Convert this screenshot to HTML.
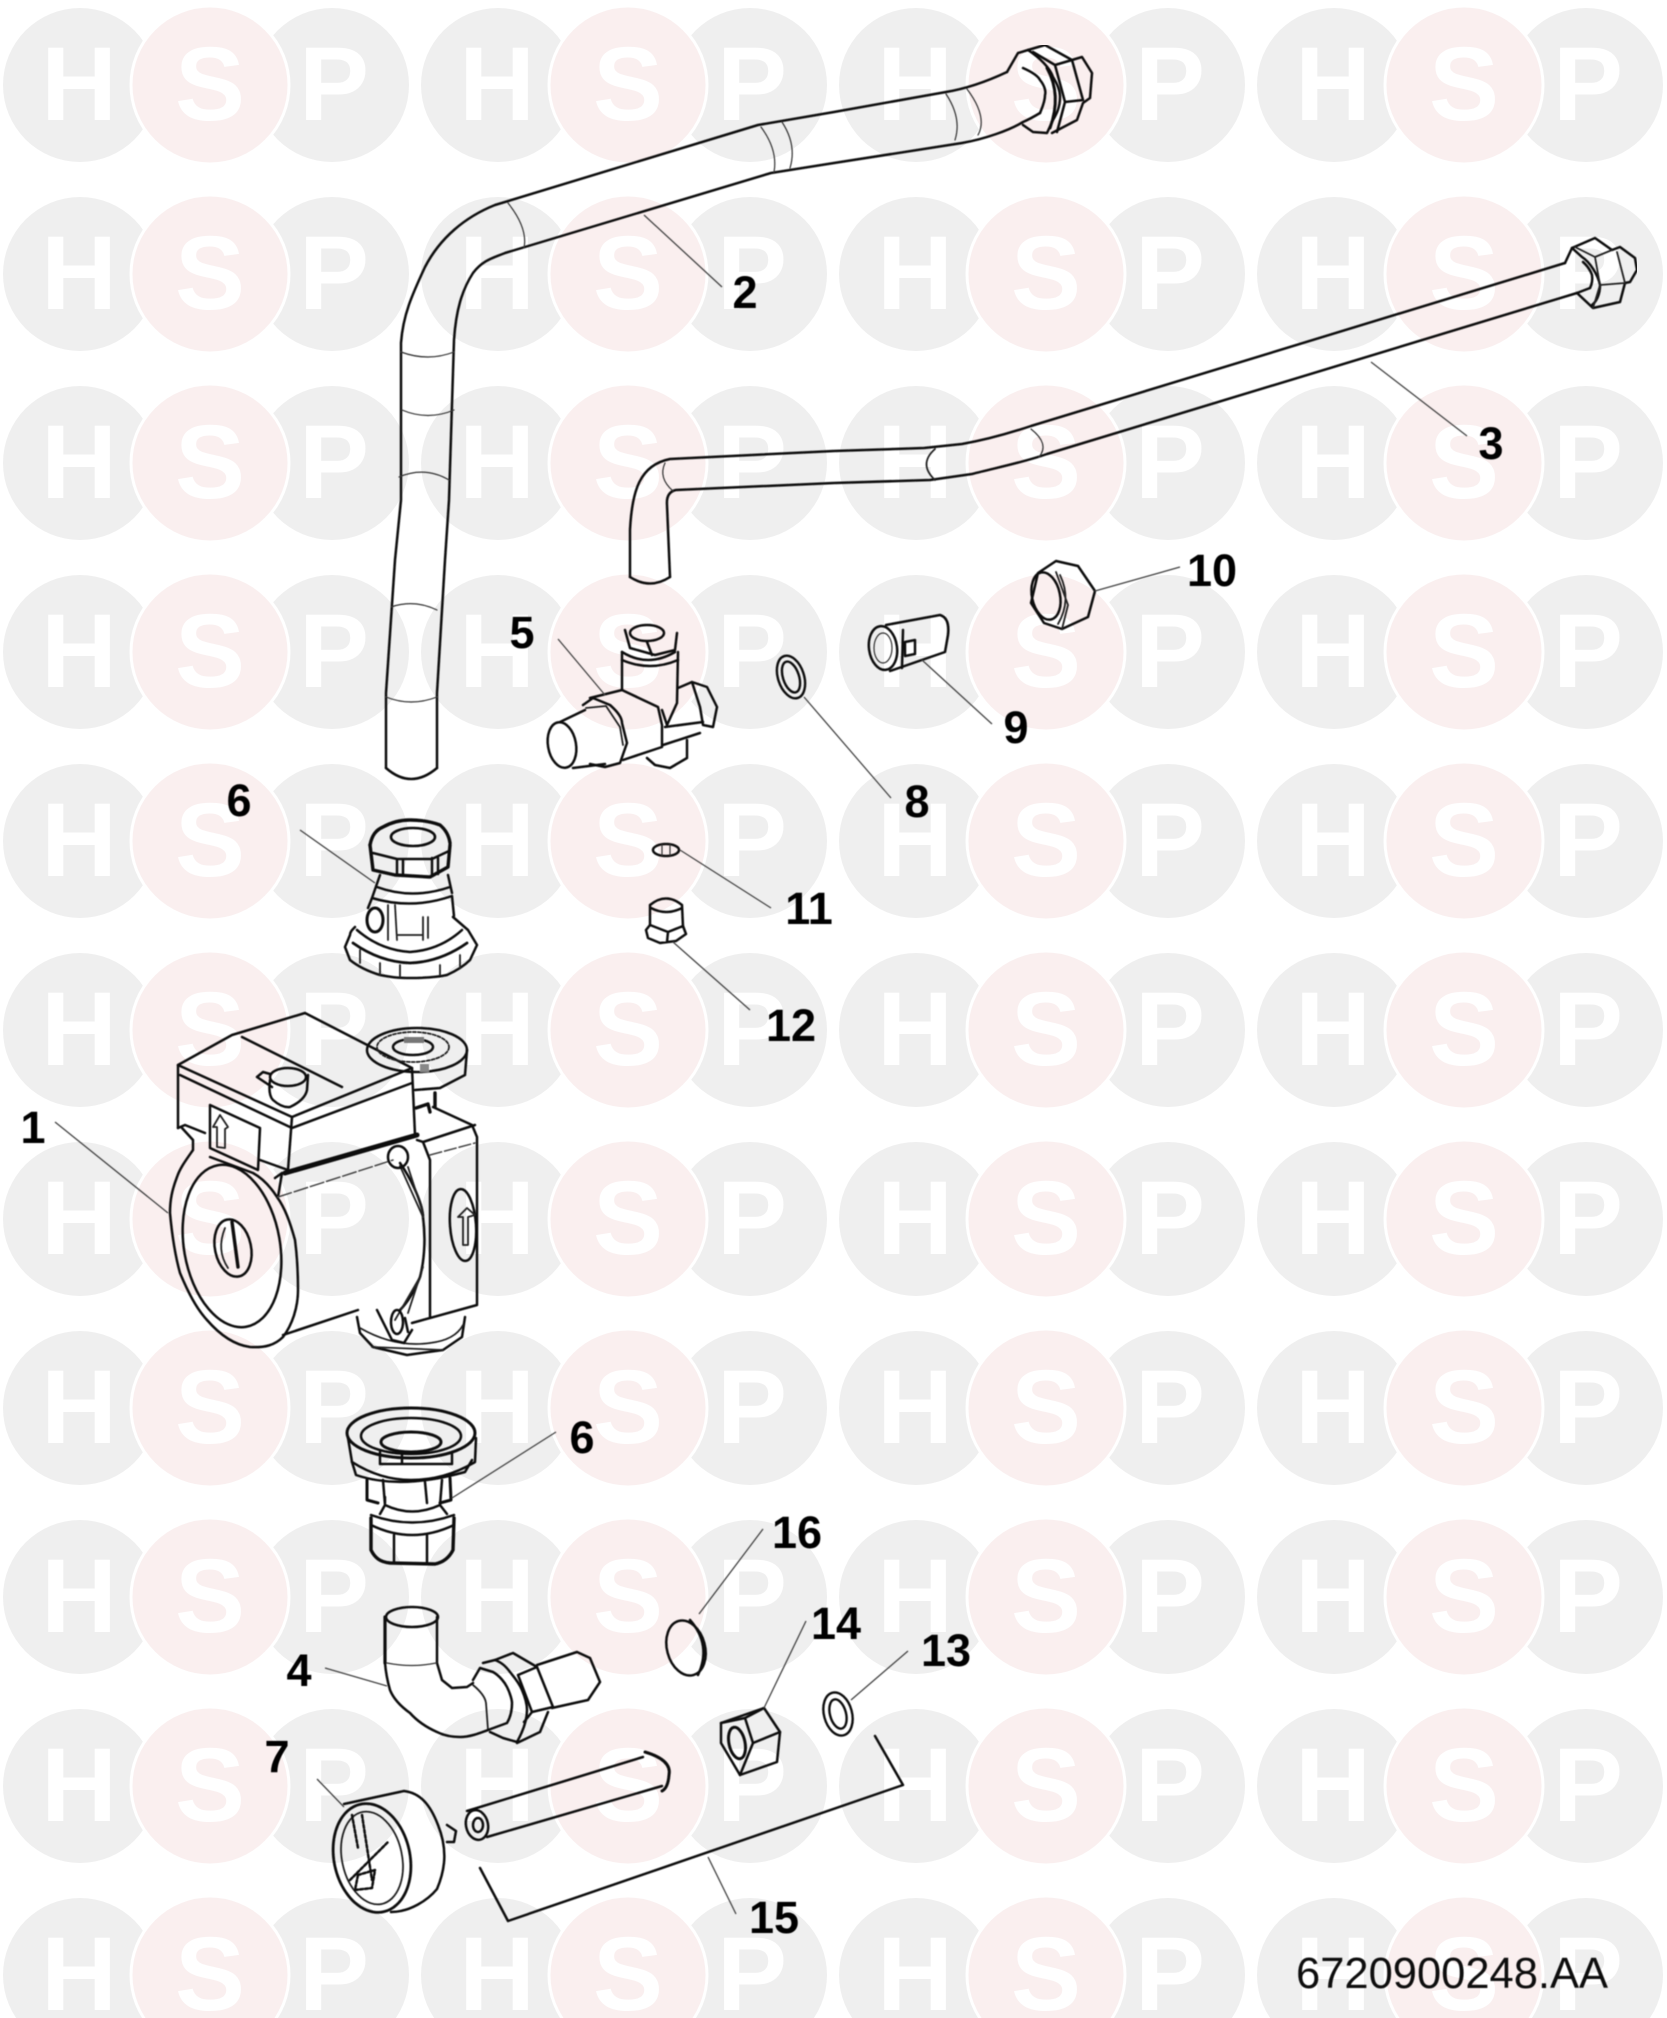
<!DOCTYPE html>
<html><head><meta charset="utf-8"><style>
html,body{margin:0;padding:0;background:#fff}
svg{display:block}
.l{fill:none;stroke:#111;stroke-width:2.5;stroke-linejoin:round;stroke-linecap:round}
.t{fill:none;stroke:#333;stroke-width:1.2;stroke-linecap:round}
.m{fill:none;stroke:#222;stroke-width:1.8;stroke-linejoin:round;stroke-linecap:round}
.b{fill:none;stroke:#111;stroke-width:3.4;stroke-linejoin:round;stroke-linecap:round}
.d{fill:none;stroke:#444;stroke-width:1.5;stroke-linecap:round}
.ld{fill:none;stroke:#444;stroke-width:1.3}
.n{font:bold 45px "Liberation Sans",sans-serif;fill:#000;text-anchor:middle}
.wm{font:bold 105px "Liberation Sans",sans-serif;fill:#fff;text-anchor:middle}
</style></head><body>
<svg xmlns="http://www.w3.org/2000/svg" width="1667" height="2018" viewBox="0 0 1667 2018">
<defs>
<pattern id="hsp" patternUnits="userSpaceOnUse" x="0" y="0" width="418" height="189">
<circle cx="80" cy="85" r="77" fill="#efefef"/>
<circle cx="332" cy="85" r="77" fill="#efefef"/>
<circle cx="210" cy="85" r="79" fill="#faefef" stroke="#fff" stroke-width="3"/>
<text class="wm" x="79" y="120">H</text>
<text class="wm" x="210" y="120">S</text>
<text class="wm" x="334" y="120">P</text>
</pattern>
<filter id="soft" x="0" y="0" width="100%" height="100%"><feGaussianBlur stdDeviation="0.45"/></filter>
</defs>
<rect width="1667" height="2018" fill="#fff"/>
<rect width="1667" height="2018" fill="url(#hsp)"/>
<g filter="url(#soft)">
<!-- pipe 2 -->
<path class="l" d="M386 768L386 693L395 560L401 500L401 343C403 315 412 295 425 267C440 238 465 217 495 205L758 125L834 112L946 92C970 88 990 80 1007 72"/>
<path class="l" d="M437 768L437 693L445 560L449 500L454 340C456 310 462 290 473 273C483 260 493 258 505 253L771 173L834 163L962 143C985 139 1010 130 1023 122C1030 119 1035 116 1040 113"/>
<path class="l" d="M386 768Q411 790 437 768"/>
<path class="t" d="M401 352Q428 362 454 352M402 410Q428 421 454 410M399 477Q425 466 449 480M391 607Q414 599 437 610M386 697Q411 707 437 697"/>
<path class="t" d="M508 203Q528 228 524 248M761 127Q778 150 774 172M782 122Q797 145 790 168M946 94Q962 118 955 140M967 89Q988 117 978 135"/>
<!-- nut 2 -->
<path class="l" d="M1007 72L1018 53L1028 50C1040 58 1050 68 1053 77C1058 85 1060 92 1060 97C1060 108 1056 115 1053 120L1047 133L1033 132L1023 125"/>
<path class="l" d="M1023 68C1032 72 1038 76 1040 80C1045 86 1046 92 1045 95C1045 102 1042 108 1040 113"/>
<path class="l" d="M1028 50L1045 45L1072 60L1082 57L1092 73L1090 98L1083 103L1077 120L1052 133"/>
<path class="l" d="M1033 52L1055 65L1072 60L1083 100M1055 65L1065 102L1083 100M1065 102L1057 132"/>
<path class="b" d="M1047 68Q1062 95 1050 128" style="stroke-width:3"/>
<!-- pipe 3 -->
<path class="l" d="M630 577L630 530C632 490 640 465 670 459L834 451L924 448L962 444C985 440 1010 433 1031 426L1565 263"/>
<path class="l" d="M670 577L667 505Q666 492 676 490L834 483L930 480L972 474C995 468 1025 462 1047 454L1577 293L1590 288"/>
<path class="l" d="M630 577Q650 590 670 577"/>
<path class="t" d="M665 463Q658 478 673 491"/>
<path class="m" d="M935 449Q918 464 935 480"/>
<path class="t" d="M1031 429Q1050 444 1039 457"/>
<!-- nut 3 -->
<path class="l" d="M1565 263L1572 248L1595 238L1612 250L1620 247L1635 258L1637 270L1630 282L1625 283L1620 302L1593 308L1577 293"/>
<path class="l" d="M1572 248L1582 257C1590 262 1598 275 1600 285C1600 295 1596 302 1592 305"/>
<path class="l" d="M1583 262C1590 268 1592 275 1592 275C1593 282 1591 286 1590 288"/>
<path class="m" d="M1575 247L1595 257L1612 250M1595 257L1600 285L1625 283L1617 252M1600 285L1593 308"/>
<!-- nut 10 -->
<path class="l" d="M1038 573L1056 561L1078 566L1095 591L1088 617L1062 629L1044 623L1031 603Z"/>
<ellipse class="l" cx="1046" cy="596" rx="14" ry="24" transform="rotate(-12 1046 596)"/>
<path class="m" d="M1056 572L1068 605L1062 629M1060 575Q1072 600 1058 624"/>
<!-- part 9 -->
<path class="l" d="M886 625L940 615Q950 618 948 635L945 652L890 671"/>
<ellipse class="l" cx="883" cy="648" rx="14" ry="22" transform="rotate(-8 883 648)"/>
<ellipse class="t" cx="883" cy="648" rx="9" ry="15"/>
<path class="l" d="M905 642L915 640L915 654L905 656Z M903 630L902 668"/>
<!-- part 8 -->
<ellipse class="l" cx="791" cy="677" rx="13" ry="22" transform="rotate(-18 791 677)" style="stroke-width:2.4"/>
<ellipse class="l" cx="791" cy="677" rx="8" ry="16" transform="rotate(-18 791 677)" style="stroke-width:2.4"/>
<!-- part 5 -->
<ellipse class="l" cx="647" cy="633" rx="17" ry="8"/>
<path class="l" d="M625 630L630 648L655 655L675 650L677 633M647 642L652 655"/>
<path class="l" d="M622 652Q648 668 675 652M622 660Q650 672 678 660"/>
<path class="l" d="M622 652L622 690M678 652L677 703L667 725L662 710"/>
<path class="l" d="M590 698L622 690L658 707L662 725L662 747L623 760"/>
<path class="l" d="M583 705L593 698L610 705C618 712 622 718 622 723L627 743L620 763L605 767L590 764"/>
<path class="m" d="M586 708L606 706L620 727L623 745"/>
<path class="l" d="M560 722L585 710M573 768L605 764"/>
<ellipse class="l" cx="562" cy="745" rx="14" ry="23" transform="rotate(-10 562 745)"/>
<path class="l" d="M678 688L692 682L707 687L717 707L713 727L703 725L700 707L692 682"/>
<path class="l" d="M665 727L703 722M663 745L700 733"/>
<path class="l" d="M687 740L687 758L670 768L655 765L647 758"/>
<!-- part 6 top -->
<path class="b" d="M370 845C372 835 376 830 383 827C392 822 400 820 410 820C422 820 432 822 440 825C446 830 449 836 450 843"/>
<ellipse class="b" cx="413" cy="837" rx="22" ry="9" style="stroke-width:2.6"/>
<path class="b" d="M370 845L373 870L395 875L430 877L448 867L450 845"/>
<path class="l" d="M373 853L397 859L432 859L449 851M397 860L397 875M403 860L403 875M432 858L432 876M438 858L438 874"/>
<path class="l" d="M380 875L372 898M448 875L452 893M377 887Q412 900 450 887M372 898Q412 910 452 896M372 898L368 908M452 896L454 916"/>
<ellipse class="b" cx="375" cy="920" rx="8" ry="12" style="stroke-width:3"/>
<path class="m" d="M388 905L388 940M395 905L397 940M423 917L423 940M428 917L428 938M397 935L423 935"/>
<path class="l" d="M355 927C352 930 350 932 350 935L345 947L350 960C360 968 370 972 380 975C395 978 402 978 410 978C425 978 438 977 447 975C458 970 465 965 470 960L477 945L468 930L453 917"/>
<path class="b" d="M353 943Q380 962 410 963Q440 962 467 943" style="stroke-width:2.8"/>
<path class="l" d="M357 930Q380 950 410 952Q440 950 462 930"/>
<path class="m" d="M380 963L380 975M400 965L400 977M440 965L440 975M460 955L460 968M360 950L360 963"/>
<!-- part 11 -->
<ellipse class="l" cx="666" cy="850" rx="13" ry="6"/>
<path class="t" d="M662 845L662 855M670 845L670 855"/>
<!-- part 12 -->
<path class="l" d="M650 925L650 905Q666 892 682 905L683 927M651 908Q666 916 682 908"/>
<path class="l" d="M650 925L646 930L648 938L660 943L676 941L686 934L683 926L668 932L650 925M668 932L667 942"/>
<!-- pump -->
<path class="l" d="M182 1128L193 1140L193 1150C186 1160 180 1168 177 1177C172 1190 170 1200 170 1213C172 1235 175 1255 180 1273C188 1292 196 1308 207 1320C220 1335 235 1345 250 1347C265 1348 275 1345 283 1337C292 1325 298 1308 298 1290C298 1272 297 1255 295 1240C290 1222 285 1208 277 1197C270 1186 262 1178 253 1173L210 1157"/>
<ellipse class="l" cx="232" cy="1246" rx="48" ry="82" transform="rotate(-10 232 1246)"/>
<ellipse class="l" cx="233" cy="1248" rx="18" ry="29" transform="rotate(-12 233 1248)"/>
<path class="m" d="M225 1228Q216 1250 228 1268"/>
<path class="b" d="M232 1222L238 1267"/>
<path class="l" d="M178 1065L232 1035L305 1013L412 1068L292 1117Z"/>
<path class="l" d="M242 1037L342 1087M178 1065L178 1128M292 1117L288 1170M412 1068L415 1135"/>
<path class="l" d="M180 1075L292 1128L412 1083M178 1128L185 1125L205 1133"/>
<path class="l" d="M210 1105L260 1128L258 1170L210 1148ZM260 1160L288 1170"/>
<path class="m" d="M220 1115L213 1127L217 1127L217 1147L225 1148L225 1129L228 1127Z"/>
<path class="b" d="M285 1173L417 1135" style="stroke-width:5"/>
<ellipse class="l" cx="288" cy="1077" rx="18" ry="9"/>
<path class="l" d="M270 1080Q268 1095 273 1100Q282 1108 290 1107Q305 1100 307 1090L308 1075M257 1077L263 1072L270 1074M257 1077L272 1087"/>
<ellipse class="l" cx="417" cy="1050" rx="50" ry="22"/>
<ellipse class="m" cx="413" cy="1047" rx="36" ry="15" stroke-dasharray="3 2"/>
<ellipse class="l" cx="413" cy="1047" rx="20" ry="8"/>
<rect x="404" y="1037" width="20" height="6" fill="#777"/>
<rect x="420" y="1064" width="9" height="8" fill="#888"/>
<path class="l" d="M467 1050L465 1075L440 1088L415 1090"/>
<path class="b" d="M435 1093L435 1107M416 1108L428 1104L430 1112"/>
<path class="l" d="M433 1107L472 1125L477 1137L477 1305L412 1323M417 1140L423 1142L430 1160L430 1317M423 1142L475 1125"/>
<path class="d" d="M430 1155L475 1143" stroke-dasharray="12 3"/>
<path class="l" d="M275 1178L282 1173L278 1197"/>
<path class="d" d="M278 1197L393 1160" stroke-dasharray="14 3"/>
<path class="l" d="M283 1335L358 1310"/>
<path class="l" d="M400 1163C412 1180 423 1205 423 1217C426 1240 424 1262 420 1277C414 1292 408 1302 400 1310"/>
<path class="m" d="M408 1167L423 1213M423 1267L408 1313M400 1166L423 1217M420 1277L395 1320"/>
<ellipse class="l" cx="398" cy="1157" rx="10" ry="11"/>
<path class="l" d="M357 1317L360 1333L373 1347L407 1355L443 1350L462 1337L465 1317"/>
<path class="m" d="M360 1328Q395 1348 430 1343Q455 1340 463 1325M372 1347L443 1350"/>
<ellipse class="l" cx="397" cy="1322" rx="6" ry="12"/>
<path class="l" d="M377 1310L392 1340L404 1343L412 1330M405 1318L408 1332"/>
<ellipse class="l" cx="463" cy="1225" rx="13" ry="36" transform="rotate(-4 463 1225)"/>
<path class="m" d="M467 1208L458 1217L463 1217L463 1245L468 1245L468 1217L475 1215Z"/>
<!-- part 6 lower -->
<ellipse class="b" cx="411" cy="1433" rx="64" ry="25" style="stroke-width:3"/>
<ellipse class="l" cx="411" cy="1436" rx="50" ry="18"/>
<ellipse class="l" cx="411" cy="1442" rx="30" ry="10" style="stroke-width:3"/>
<path class="l" d="M348 1438L352 1462Q380 1480 411 1480Q445 1480 475 1462L476 1438"/>
<path class="l" d="M380 1452L380 1464L452 1464L452 1452M402 1452L402 1464M352 1462L356 1475Q400 1490 465 1472L472 1460"/>
<path class="b" d="M367 1480L367 1500L378 1503M450 1478L451 1500L440 1503" style="stroke-width:3"/>
<path class="l" d="M383 1480L385 1505L380 1514M442 1480L440 1505L447 1514M385 1497L385 1503M425 1482L427 1503M385 1505Q412 1518 440 1505"/>
<path class="b" d="M371 1518L371 1550C375 1558 380 1562 390 1563L435 1564C445 1562 450 1556 453 1550L454 1518"/>
<path class="l" d="M371 1525Q412 1545 454 1525M394 1535L394 1563M427 1535L427 1563M371 1515Q412 1530 454 1515"/>
<!-- part 16 -->
<ellipse class="l" cx="686" cy="1648" rx="19" ry="28" transform="rotate(-15 686 1648)"/>
<path class="l" d="M690 1620Q712 1645 698 1675"/>
<!-- part 4 -->
<ellipse class="l" cx="412" cy="1617" rx="26" ry="10"/>
<path class="b" d="M385 1617L385 1663" style="stroke-width:3.2"/>
<path class="l" d="M385 1663C386 1675 388 1683 390 1690C394 1700 403 1708 410 1713C418 1722 428 1728 437 1732C445 1736 452 1737 460 1737C470 1737 480 1733 488 1730"/>
<path class="l" d="M437 1617L437 1663L442 1680L452 1688L467 1687L473 1683"/>
<path class="t" d="M387 1663Q412 1668 436 1663"/>
<path class="m" d="M473 1685Q485 1695 486 1703L488 1730"/>
<path class="l" d="M473 1680L480 1668L493 1672C500 1676 505 1683 507 1687C510 1693 512 1700 512 1703C512 1712 510 1718 507 1723L488 1730"/>
<path class="l" d="M483 1663L495 1660C503 1663 507 1668 510 1672C515 1678 520 1685 522 1690C525 1697 527 1705 527 1710C527 1722 522 1733 517 1742L503 1738L490 1732"/>
<path class="l" d="M495 1660L513 1653L537 1667L518 1675L532 1712L553 1707L537 1667M548 1712L540 1732L517 1743M532 1712L524 1722"/>
<path class="l" d="M537 1665L577 1652L590 1658L600 1682L588 1700L552 1708"/>
<!-- part 14 -->
<path class="l" d="M721 1723L764 1708L780 1732L777 1762L740 1775L721 1743Z"/>
<path class="l" d="M721 1723L745 1718L753 1743L740 1775M745 1718L764 1708M753 1743L780 1732"/>
<ellipse class="l" cx="737" cy="1743" rx="8" ry="16" transform="rotate(-12 737 1743)" style="stroke-width:3"/>
<!-- part 13 -->
<ellipse class="l" cx="838" cy="1714" rx="14" ry="22" transform="rotate(-15 838 1714)" style="stroke-width:2.4"/>
<ellipse class="l" cx="838" cy="1714" rx="8" ry="15" transform="rotate(-15 838 1714)" style="stroke-width:2.4"/>
<!-- tube 15 -->
<path class="l" d="M467 1811L643 1757M487 1837L662 1786"/>
<ellipse class="l" cx="477" cy="1825" rx="11" ry="15" transform="rotate(-12 477 1825)"/>
<ellipse class="l" cx="478" cy="1825" rx="5" ry="7"/>
<path class="b" d="M645 1752Q672 1760 669 1775Q668 1788 662 1791" style="stroke-width:3"/>
<!-- gauge 7 -->
<ellipse class="b" cx="372" cy="1858" rx="38" ry="55" transform="rotate(-12 372 1858)" style="stroke-width:2.8;stroke-dasharray:6 1"/>
<ellipse class="m" cx="372" cy="1858" rx="30" ry="47" transform="rotate(-12 372 1858)"/>
<path class="l" d="M344 1804L404 1791C420 1793 430 1804 438 1825C448 1850 445 1870 437 1889C428 1900 410 1912 391 1912"/>
<path class="l" d="M447 1825L456 1831L454 1842L447 1842"/>
<path class="l" d="M352 1815L358 1848M362 1815L372 1880M350 1880L388 1842M358 1875L375 1870L372 1888L355 1890Z" style="stroke-dasharray:3 2"/>
<!-- bracket -->
<path class="l" d="M875 1736L903 1785L508 1921L480 1868"/>
<!-- leaders -->
<path class="ld" d="M644 215L722 287M1371 362L1467 436M1180 567L1095 591M922 660L992 724M804 697L891 798M558 639L605 695M300 830L375 883M680 850L771 908M673 942L750 1010M55 1122L168 1213M452 1498L556 1432M699 1614L763 1529M764 1708L806 1621M851 1700L908 1651M325 1668L387 1686M317 1779L344 1807M708 1857L736 1914"/>
<!-- labels -->
<text class="n" x="745" y="308">2</text>
<text class="n" x="1491" y="459">3</text>
<text class="n" x="1212" y="586">10</text>
<text class="n" x="1016" y="743">9</text>
<text class="n" x="917" y="817">8</text>
<text class="n" x="522" y="648">5</text>
<text class="n" x="239" y="816">6</text>
<text class="n" x="809" y="924">11</text>
<text class="n" x="791" y="1041">12</text>
<text class="n" x="33" y="1143">1</text>
<text class="n" x="582" y="1453">6</text>
<text class="n" x="797" y="1548">16</text>
<text class="n" x="836" y="1639">14</text>
<text class="n" x="946" y="1666">13</text>
<text class="n" x="299" y="1686">4</text>
<text class="n" x="277" y="1772">7</text>
<text class="n" x="774" y="1933">15</text>
<text x="1296" y="1988" style="font:43.5px 'Liberation Sans',sans-serif;fill:#111">6720900248.AA</text>
</g>
</svg>
</body></html>
